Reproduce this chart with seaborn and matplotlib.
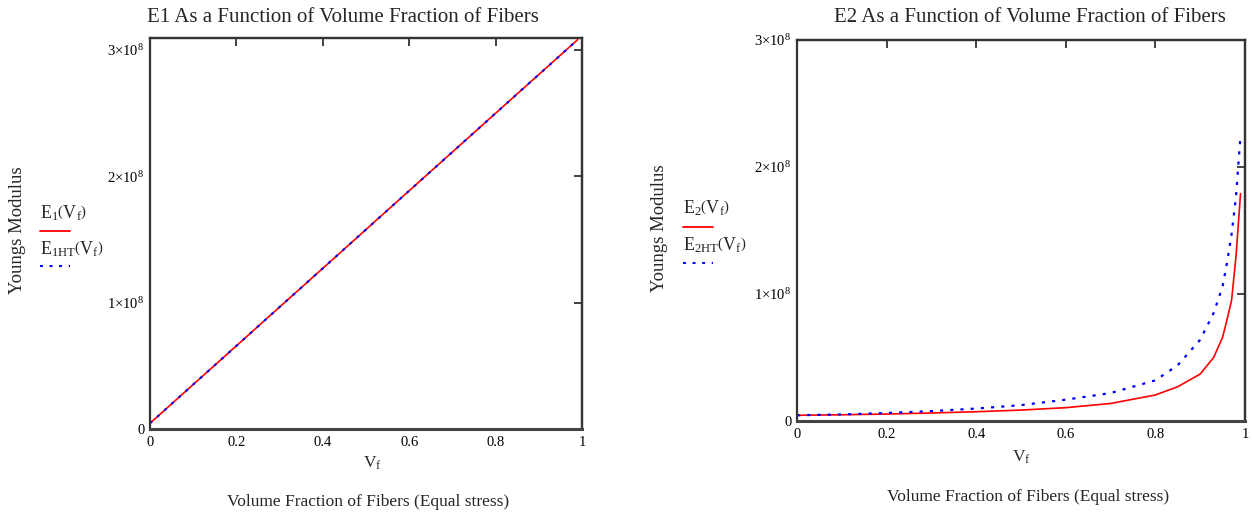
import numpy as np
import pandas as pd
import matplotlib
matplotlib.use("Agg")
import matplotlib.pyplot as plt
from matplotlib.lines import Line2D
import seaborn as sns

# ---- data ----
vf1 = [0.0, 0.1, 0.2, 0.3, 0.4, 0.5, 0.6, 0.7, 0.8, 0.9, 0.99]
e1 = [4.5e6, 35.2e6, 65.8e6, 96.5e6, 127.1e6, 157.8e6, 188.5e6, 219.1e6, 249.8e6, 280.4e6, 308.0e6]
e1ht = [4.5e6, 35.2e6, 65.8e6, 96.5e6, 127.1e6, 157.8e6, 188.5e6, 219.1e6, 249.8e6, 280.4e6, 308.0e6]

vf2 = [0.0, 0.1, 0.2, 0.3, 0.4, 0.5, 0.6, 0.7, 0.8, 0.85, 0.9, 0.93, 0.95, 0.96, 0.97, 0.98, 0.99]
e2 = [4.5e6, 4.9e6, 5.5e6, 6.3e6, 7.3e6, 8.6e6, 10.5e6, 13.8e6, 20.5e6, 27e6, 37e6, 50e6, 66e6,
      80e6, 95e6, 130e6, 179e6]
e2ht = [4.5e6, 5.2e6, 6.3e6, 7.8e6, 9.8e6, 12.5e6, 16.8e6, 22e6, 32e6, 44e6, 64e6, 85e6, 106e6,
        125e6, 147e6, 177e6, 225e6]

xticks = [0, 0.2, 0.4, 0.6, 0.8, 1]
xticklabels = ["0", "0.2", "0.4", "0.6", "0.8", "1"]
yticks = [0, 1e8, 2e8, 3e8]
yticklabels = ["0", r"1×10$^{8}$", r"2×10$^{8}$", r"3×10$^{8}$"]

sns.set_style("white")
plt.rcParams["font.family"] = ["Liberation Serif", "DejaVu Serif"]
plt.rcParams["mathtext.fontset"] = "custom"
plt.rcParams["mathtext.rm"] = "Liberation Serif"
plt.rcParams["mathtext.it"] = "Liberation Serif"
plt.rcParams["mathtext.bf"] = "Liberation Serif:bold"

W, H = 1252, 514
fig = plt.figure(figsize=(W / 100, H / 100), dpi=100)


def px(x, y):
    return x / W, 1 - y / H


def make_axes(left, top, right, bottom):
    return fig.add_axes([left / W, 1 - bottom / H, (right - left) / W, (bottom - top) / H])


ax1 = make_axes(150, 38, 582, 429)
ax2 = make_axes(797, 40, 1245, 421)

df1 = pd.DataFrame({"vf": vf1, "E1": e1, "E1HT": e1ht})
df2 = pd.DataFrame({"vf": vf2, "E2": e2, "E2HT": e2ht})

dot = (0, (1.4, 3.2))
sns.lineplot(data=df1, x="vf", y="E1", ax=ax1, color="#ff0000", lw=1.2)
sns.lineplot(data=df1, x="vf", y="E1HT", ax=ax1, color="#0000ff", lw=1.5, linestyle=dot)
sns.lineplot(data=df2, x="vf", y="E2", ax=ax2, color="#ff0000", lw=1.2)
sns.lineplot(data=df2, x="vf", y="E2HT", ax=ax2, color="#0000ff", lw=1.6, linestyle=dot)

ylims = [(0, 3.093e8), (0, 3.0e8)]
for ax, yl in zip([ax1, ax2], ylims):
    ax.set_xlim(0, 1)
    ax.set_ylim(*yl)
    ax.set_xlabel("")
    ax.set_ylabel("")
    ax.set_xticks(xticks)
    ax.set_xticklabels(xticklabels)
    ax.set_yticks(yticks)
    ax.set_yticklabels(yticklabels)
    for s in ax.spines.values():
        s.set_color("#333333")
        s.set_linewidth(1.6)
    ax.spines["bottom"].set_linewidth(2.2)
    ax.spines["bottom"].set_color("#444444")
    ax.tick_params(axis="x", direction="in", length=6, width=1.3, color="#333333",
                   labelsize=10.5, pad=5, labelcolor="black")
    ax.tick_params(axis="y", direction="out", length=3, width=1.3, color="#333333",
                   labelsize=10.5, pad=1, labelcolor="black")
    sx = ax.secondary_xaxis("top")
    sx.set_xticks(xticks)
    sx.tick_params(direction="in", length=6, width=1.3, color="#333333", labeltop=False)
    sy = ax.secondary_yaxis("right")
    sy.set_yticks(yticks)
    sy.tick_params(direction="in", length=6, width=1.3, color="#333333", labelright=False)
    for s in list(sx.spines.values()) + list(sy.spines.values()):
        s.set_linewidth(1.6)
        s.set_color("#333333")

# titles
fig.text(*px(343, 17), "E1 As a Function of Volume Fraction of Fibers", ha="center", va="center", fontsize=15)
fig.text(*px(1030, 17), "E2 As a Function of Volume Fraction of Fibers", ha="center", va="center", fontsize=15)

# y labels
fig.text(*px(18, 230), "Youngs Modulus", rotation=90, ha="center", va="center", fontsize=13.5)
fig.text(*px(659, 228), "Youngs Modulus", rotation=90, ha="center", va="center", fontsize=13.5)

# x labels
fig.text(*px(372, 463), r"V$_{\mathrm{f}}$", ha="center", va="center", fontsize=12.5)
fig.text(*px(1021, 457), r"V$_{\mathrm{f}}$", ha="center", va="center", fontsize=12.5)
fig.text(*px(368, 502), "Volume Fraction of Fibers (Equal stress)", ha="center", va="center", fontsize=12.5)
fig.text(*px(1028, 497), "Volume Fraction of Fibers (Equal stress)", ha="center", va="center", fontsize=12.5)

# legends
leg = [
    (40, 213, 231, r"$\mathrm{E_{1}}\left(\mathrm{V_{f}}\right)$", 249, 266, r"$\mathrm{E_{1HT}}\left(\mathrm{V_{f}}\right)$"),
    (683, 208, 227, r"$\mathrm{E_{2}}\left(\mathrm{V_{f}}\right)$", 245, 263, r"$\mathrm{E_{2HT}}\left(\mathrm{V_{f}}\right)$"),
]
for x0, ty1, ly1, t1, ty2, ly2, t2 in leg:
    fig.text(*px(x0, ty1), t1, ha="left", va="center", fontsize=13)
    fig.add_artist(Line2D([x0 / W, (x0 + 30) / W], [1 - ly1 / H] * 2, transform=fig.transFigure,
                          color="#ff0000", lw=1.3))
    fig.text(*px(x0, ty2), t2, ha="left", va="center", fontsize=13)
    fig.add_artist(Line2D([x0 / W, (x0 + 30) / W], [1 - ly2 / H] * 2, transform=fig.transFigure,
                          color="#0000ff", lw=1.5, linestyle=dot))

fig.savefig("out.png", dpi=100)
